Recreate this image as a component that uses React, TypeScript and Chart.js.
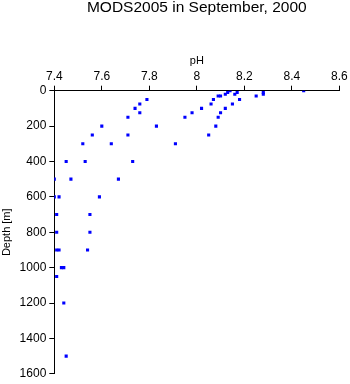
import React, { useEffect, useRef } from 'react';
import { Chart, registerables } from 'chart.js';

Chart.register(...registerables);

const chartTitle = 'MODS2005 in September, 2000';
const xAxisLabel = 'pH';
const yAxisLabel = 'Depth [m]';

const phValues = [
  8.14, 8.13, 8.17, 8.45, 8.28, 8.28, 8.12, 8.16, 8.25, 8.09, 8.10,
  8.07, 8.18, 8.06, 8.15, 8.02, 8.12, 7.98, 8.10, 7.95, 8.09, 8.08, 8.05,
  7.79, 7.76, 7.74, 7.76, 7.71, 7.60, 7.83, 7.56, 7.71, 7.52, 7.64, 7.91,
  7.45, 7.53, 7.73, 7.40, 7.47, 7.67, 7.40, 7.42, 7.59, 7.41, 7.55,
  7.41, 7.55, 7.41, 7.42, 7.54, 7.43, 7.44, 7.41, 7.44, 7.45,
];
const depthValues = [
  0, 10, 10, 0, 10, 20, 20, 20, 30, 30, 30,
  50, 50, 75, 75, 100, 100, 125, 125, 150, 150, 200, 250,
  50, 75, 100, 125, 150, 200, 200, 250, 250, 300, 300, 300,
  400, 400, 400, 500, 500, 500, 600, 600, 600, 700, 700,
  800, 800, 900, 900, 900, 1000, 1000, 1050, 1200, 1500,
];

const xTickValues = [7.4, 7.6, 7.8, 8, 8.2, 8.4, 8.6];
const yTickValues = [0, 200, 400, 600, 800, 1000, 1200, 1400, 1600];

const FONT = "'Liberation Sans', Arial, Helvetica, sans-serif";

export default function App() {
  const canvasRef = useRef<HTMLCanvasElement | null>(null);

  useEffect(() => {
    const canvas = canvasRef.current;
    if (!canvas) return;
    Chart.defaults.font.family = FONT;
    Chart.defaults.color = '#000';

    const points = phValues.map((p, i) => ({ x: p, y: depthValues[i] }));

    const chart = new Chart(canvas, {
      type: 'scatter',
      data: {
        datasets: [
          {
            label: 'pH',
            data: points,
            pointStyle: 'rect',
            pointRadius: 2.2,
            pointBorderWidth: 0,
            backgroundColor: '#0000ff',
            borderColor: '#0000ff',
          },
        ],
      },
      options: {
        responsive: false,
        animation: false,
        events: [],
        layout: { padding: { top: 0, left: 0, right: 10.7, bottom: 9 } },
        plugins: {
          legend: { display: false },
          tooltip: { enabled: false },
          title: {
            display: true,
            text: chartTitle,
            fullSize: false,
            color: '#000',
            font: { size: 15.5, weight: 'normal', lineHeight: 1, family: FONT },
            padding: { top: 0, bottom: 0 },
          },
        },
        scales: {
          x: {
            type: 'linear',
            position: 'top',
            min: 7.4,
            max: 8.6,
            afterBuildTicks: (scale: any) => {
              scale.ticks = xTickValues.map((v) => ({ value: v }));
            },
            afterFit: (scale: any) => {
              scale.height = 75.2;
            },
            ticks: {
              font: { size: 12, family: FONT },
              color: '#000',
              padding: 2,
              maxRotation: 0,
              callback: (v: any) => String(v),
            },
            grid: {
              display: true,
              drawOnChartArea: false,
              drawTicks: true,
              tickLength: 5,
              color: '#000',
              lineWidth: 1,
            },
            border: { display: true, color: '#000', width: 1 },
            title: {
              display: true,
              text: xAxisLabel,
              color: '#000',
              font: { size: 11, family: FONT },
              padding: { top: 39, bottom: 0 },
            },
          },
          y: {
            type: 'linear',
            position: 'left',
            reverse: true,
            min: 0,
            max: 1600,
            afterBuildTicks: (scale: any) => {
              scale.ticks = yTickValues.map((v) => ({ value: v }));
            },
            afterFit: (scale: any) => {
              scale.width = 54.3;
            },
            ticks: {
              font: { size: 12, family: FONT },
              color: '#000',
              padding: 3,
              callback: (v: any) => String(v),
            },
            grid: {
              display: true,
              drawOnChartArea: false,
              drawTicks: true,
              tickLength: 5,
              color: '#000',
              lineWidth: 1,
            },
            border: { display: true, color: '#000', width: 1 },
            title: {
              display: true,
              text: yAxisLabel,
              color: '#000',
              font: { size: 11, family: FONT },
              padding: { top: 0, bottom: 0 },
            },
          },
        },
      },
    });

    return () => {
      chart.destroy();
    };
  }, []);

  return (
    <div style={{ position: 'absolute', left: 0, top: 0, width: 350, height: 384 }}>
      <canvas ref={canvasRef} width={350} height={384} />
    </div>
  );
}
